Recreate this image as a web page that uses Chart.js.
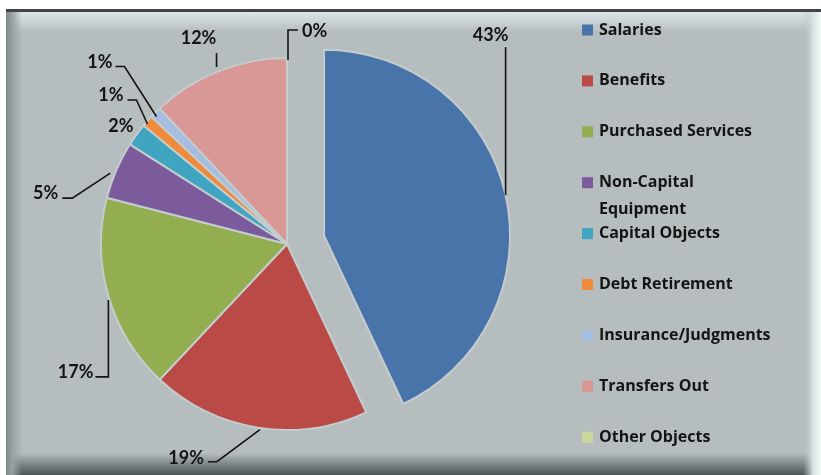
<!DOCTYPE html>
<html>
<head>
<meta charset="utf-8">
<script src="https://cdn.jsdelivr.net/npm/chart.js@4.4.1/dist/chart.umd.min.js"></script>
<style>
  html, body { margin: 0; padding: 0; background: #fff; overflow: hidden; }
  #wrap { position: relative; width: 821px; height: 475px; overflow: hidden; }
  #frame {
    position: absolute; left: 6px; top: 9px; width: 815px; height: 466px;
    box-sizing: border-box; border-top: 3px solid #3f4446; background: #b5bdbf;
  }
  .edge { position: absolute; }
  #eLeft { left: 0; top: 0; bottom: 0; width: 16px;
    background: linear-gradient(to right, #7e888a, #97a1a3 6px, rgba(181,189,191,0)); }
  #eTop { left: 0; right: 0; top: 0; height: 20px;
    background: linear-gradient(to bottom, #dbe5e7, rgba(181,189,191,0)); }
  #eBottom { left: 0; right: 0; bottom: 0; height: 22px;
    background: linear-gradient(to top, #4d5657, #788284 10px, rgba(181,189,191,0)); }
  canvas { position: absolute; left: 0; top: 0; }
</style>
</head>
<body>
<div id="wrap">
  <div id="frame">
    <div class="edge" id="eTop"></div>
    <div class="edge" id="eBottom"></div>
    <div class="edge" id="eLeft"></div>
  </div>
  <canvas id="pieChart" width="821" height="475"></canvas>
</div>
<script>
// --- data ---
const categories = [
  "Salaries", "Benefits", "Purchased Services", ["Non-Capital", "Equipment"],
  "Capital Objects", "Debt Retirement", "Insurance/Judgments", "Transfers Out", "Other Objects"
];
const shares = [43, 19, 17, 5, 2, 1, 1, 12, 0];
const sliceColors = [
  "#4874aa", "#b94a45", "#92ae50", "#7b5b9c", "#3fa5c0",
  "#f08a3c", "#a4bde0", "#d99795", "#c8d89c"
];

// leader lines: points and text offset relative to the slice's outer mid point
const leaders = [
  { pts: [[0, 0], [0, -148]], text: [-15, -160], align: "center" },
  { pts: [[2, 2], [-41, 34], [-50, 34]], text: [-54, 30], align: "right" },
  { pts: [[0, 4], [0, 81], [-13, 81]], text: [-15, 76], align: "right" },
  { pts: [[-6, 3], [-44, 28], [-54, 28]], text: [-58, 23], align: "right" },
  { pts: [], text: [-3, -8], align: "right" },
  { pts: [[0, 3], [-11, -21], [-20, -21]], text: [-24, -26], align: "right" },
  { pts: [[1, 4], [-31, -46], [-40, -46]], text: [-43, -50], align: "right" },
  { pts: [[-2, -4], [-2, -18]], text: [-20, -33], align: "center" },
  { pts: [[1, 2], [1, -28], [11, -28]], text: [15, -27], align: "left" }
];

const explode = 38;     // Salaries slice pulled out
const inkColor = "#141414";

const explodePlugin = {
  id: "explode",
  afterUpdate(chart) {
    const arc = chart.getDatasetMeta(0).data[0];
    const mid = (arc.startAngle + arc.endAngle) / 2;
    arc.x += Math.cos(mid) * explode;
    arc.y += Math.sin(mid) * explode;
  }
};

// light bevel on the right side of the frame
const bevelPlugin = {
  id: "bevel",
  beforeDraw(chart) {
    const ctx = chart.ctx;
    const g = ctx.createLinearGradient(803, 0, 821, 0);
    g.addColorStop(0, "rgba(181,189,191,0)");
    g.addColorStop(0.55, "#d6e2e4");
    g.addColorStop(1, "#f4fbfb");
    ctx.save();
    ctx.fillStyle = g;
    ctx.fillRect(803, 12, 18, 463);
    ctx.restore();
  }
};

const labelPlugin = {
  id: "pieLabels",
  afterDraw(chart) {
    const ctx = chart.ctx;
    const meta = chart.getDatasetMeta(0);
    const total = shares.reduce((a, b) => a + b, 0);
    ctx.save();
    ctx.strokeStyle = inkColor;
    ctx.fillStyle = inkColor;
    ctx.lineWidth = 1.6;
    ctx.font = "bold 18px Lato";
    ctx.textBaseline = "middle";
    meta.data.forEach((arc, i) => {
      const mid = (arc.startAngle + arc.endAngle) / 2;
      const ax = arc.x + Math.cos(mid) * arc.outerRadius;
      const ay = arc.y + Math.sin(mid) * arc.outerRadius;
      const l = leaders[i];
      if (l.pts.length) {
        ctx.beginPath();
        l.pts.forEach((p, k) => {
          if (k === 0) ctx.moveTo(ax + p[0], ay + p[1]);
          else ctx.lineTo(ax + p[0], ay + p[1]);
        });
        ctx.stroke();
      }
      ctx.textAlign = l.align;
      const pct = Math.round(shares[i] / total * 100) + "%";
      ctx.fillText(pct, ax + l.text[0], ay + l.text[1]);
    });

    // legend
    ctx.font = "bold 16px 'Open Sans'";
    ctx.textAlign = "left";
    categories.forEach((c, i) => {
      const y = 30 + i * 50.9;
      ctx.fillStyle = sliceColors[i];
      ctx.fillRect(582, y - 5.5, 11, 11);
      ctx.fillStyle = inkColor;
      const lines = Array.isArray(c) ? c : [c];
      lines.forEach((t, k) => ctx.fillText(t, 599, y + k * 27));
    });
    ctx.restore();
  }
};

const ctx = document.getElementById("pieChart").getContext("2d");
const pieChart = new Chart(ctx, {
  type: "pie",
  data: {
    labels: categories,
    datasets: [{
      data: shares,
      backgroundColor: sliceColors,
      borderColor: "#c4cccd",
      borderWidth: 2,
      radius: 186,
      clip: false
    }]
  },
  options: {
    responsive: false,
    animation: false,
    events: [],
    layout: { padding: { left: 60, right: 307, top: 40, bottom: 27 } },
    plugins: {
      legend: { display: false },
      tooltip: { enabled: false }
    }
  },
  plugins: [bevelPlugin, explodePlugin, labelPlugin]
});
</script>
</body>
</html>
